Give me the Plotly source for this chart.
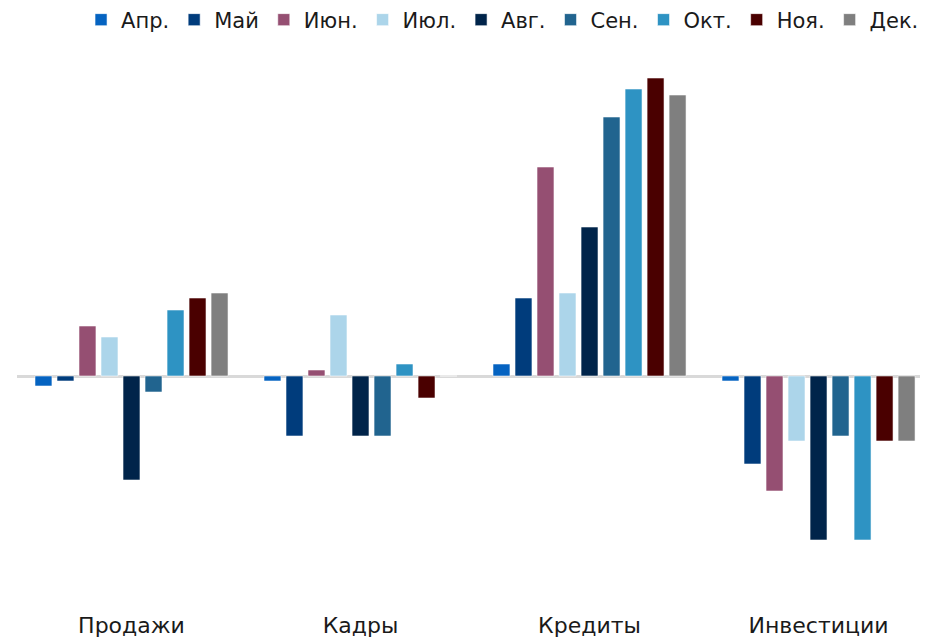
import plotly.graph_objects as go

categories = ["Продажи", "Кадры", "Кредиты", "Инвестиции"]
months = ["Апр.", "Май", "Июн.", "Июл.", "Авг.", "Сен.", "Окт.", "Ноя.", "Дек."]

apr = [-10, -5, 12, -5]
may = [-5, -60, 78, -88]
jun = [50, 6, 209, -115]
jul = [39, 61, 83, -65]
aug = [-104, -60, 149, -164]
sep = [-16, -60, 259, -60]
oct_ = [66, 12, 287, -164]
nov = [78, -22, 298, -65]
dec = [83, 0, 281, -65]

series = [apr, may, jun, jul, aug, sep, oct_, nov, dec]
colors = ["#0563C1", "#003C7C", "#954F72", "#ACD5EA", "#00244A",
          "#21648F", "#2E93C3", "#4A0000", "#7F7F7F"]

fig = go.Figure()
for name, vals, col in zip(months, series, colors):
    fig.add_trace(go.Bar(
        x=categories, y=vals, name=name,
        marker=dict(color=col, line=dict(color="rgba(255,255,255,0.55)", width=1)),
    ))

fig.update_layout(
    width=920, height=631,
    barmode="group", bargap=0.135, bargroupgap=0.23,
    paper_bgcolor="white", plot_bgcolor="white",
    margin=dict(l=9, r=0, t=32, b=29, autoexpand=False),
    font=dict(family="'DejaVu Sans', sans-serif", size=22, color="#1a1a1a"),
    legend=dict(orientation="h", x=0.0703, y=0.981, xref="paper", yref="container",
                xanchor="left", yanchor="middle",
                font=dict(size=21), itemwidth=30, traceorder="normal"),
    showlegend=True,
)
fig.update_xaxes(range=[-0.5, 3.478], showgrid=False, showline=False, ticks="",
                 tickfont=dict(size=22))
fig.update_yaxes(range=[-234, 336], showgrid=False, showticklabels=False,
                 zeroline=True, zerolinecolor="#d9d9d9", zerolinewidth=3)

fig.write_html("out.html")
